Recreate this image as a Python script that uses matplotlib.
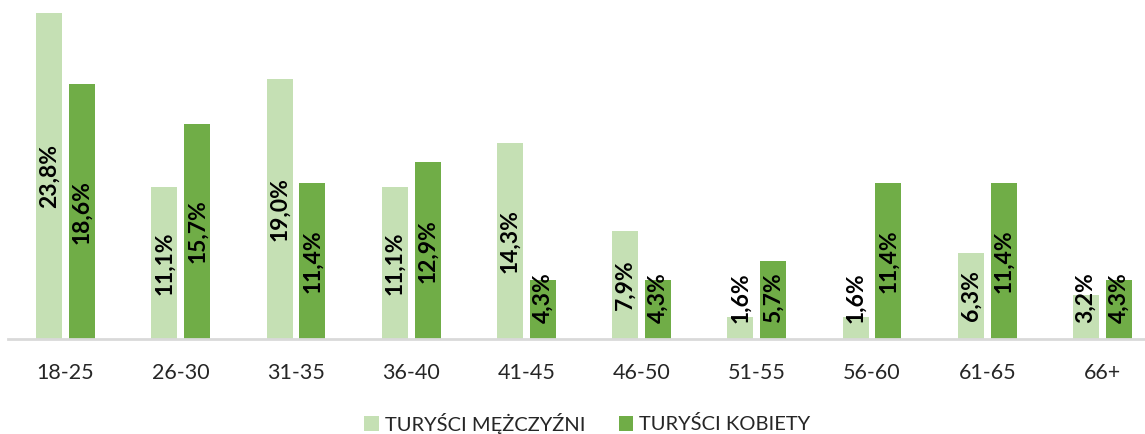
import matplotlib.pyplot as plt
import numpy as np

categories = ["18-25", "26-30", "31-35", "36-40", "41-45", "46-50", "51-55", "56-60", "61-65", "66+"]
men = [23.8, 11.1, 19.0, 11.1, 14.3, 7.9, 1.6, 1.6, 6.3, 3.2]
women = [18.6, 15.7, 11.4, 12.9, 4.3, 4.3, 5.7, 11.4, 11.4, 4.3]
series_names = ["TURYŚCI MĘŻCZYŹNI", "TURYŚCI KOBIETY"]
colors = ["#C5E0B4", "#70AD47"]

plt.rcParams['font.family'] = ['Lato', 'DejaVu Sans']

W, H = 1145, 434
fig = plt.figure(figsize=(W / 100, H / 100), dpi=100)
ax = fig.add_axes([8 / W, (H - 339) / H, 1152 / W, 339 / H])

x = np.arange(len(categories))
bw = 0.226
gap = 0.06
off = (bw + gap) / 2
for vals, col, sign, name in [(men, colors[0], -1, series_names[0]), (women, colors[1], 1, series_names[1])]:
    xs = x + sign * off
    ax.bar(xs, vals, width=bw, color=col, label=name, zorder=2)
    for xi, v in zip(xs, vals):
        yc = max(v / 2, 3.0)
        ax.text(xi, yc, f"{v:.1f}%".replace('.', ','), rotation=90, ha='center', va='center',
                fontsize=16.5, fontweight='bold', color='black', zorder=3)

ax.set_xlim(-0.5, len(categories) - 0.5)
ax.set_ylim(0, 24.75)
for s in ['top', 'right', 'left']:
    ax.spines[s].set_visible(False)
ax.spines['bottom'].set_color('#D9D9D9')
ax.spines['bottom'].set_linewidth(2)
ax.set_yticks([])
ax.set_xticks(x)
ax.set_xticklabels(categories, fontsize=15.5, color='#262626')
ax.tick_params(axis='x', length=0, pad=17)

fig.legend(loc='center', ncol=2, frameon=False, fontsize=14.5,
           bbox_to_anchor=(587.5 / W, 1 - 423 / H),
           handlelength=0.7, handleheight=0.7, handletextpad=0.3, columnspacing=1.7,
           labelcolor='#262626', borderpad=0, borderaxespad=0)

fig.savefig('out.png', dpi=100)
